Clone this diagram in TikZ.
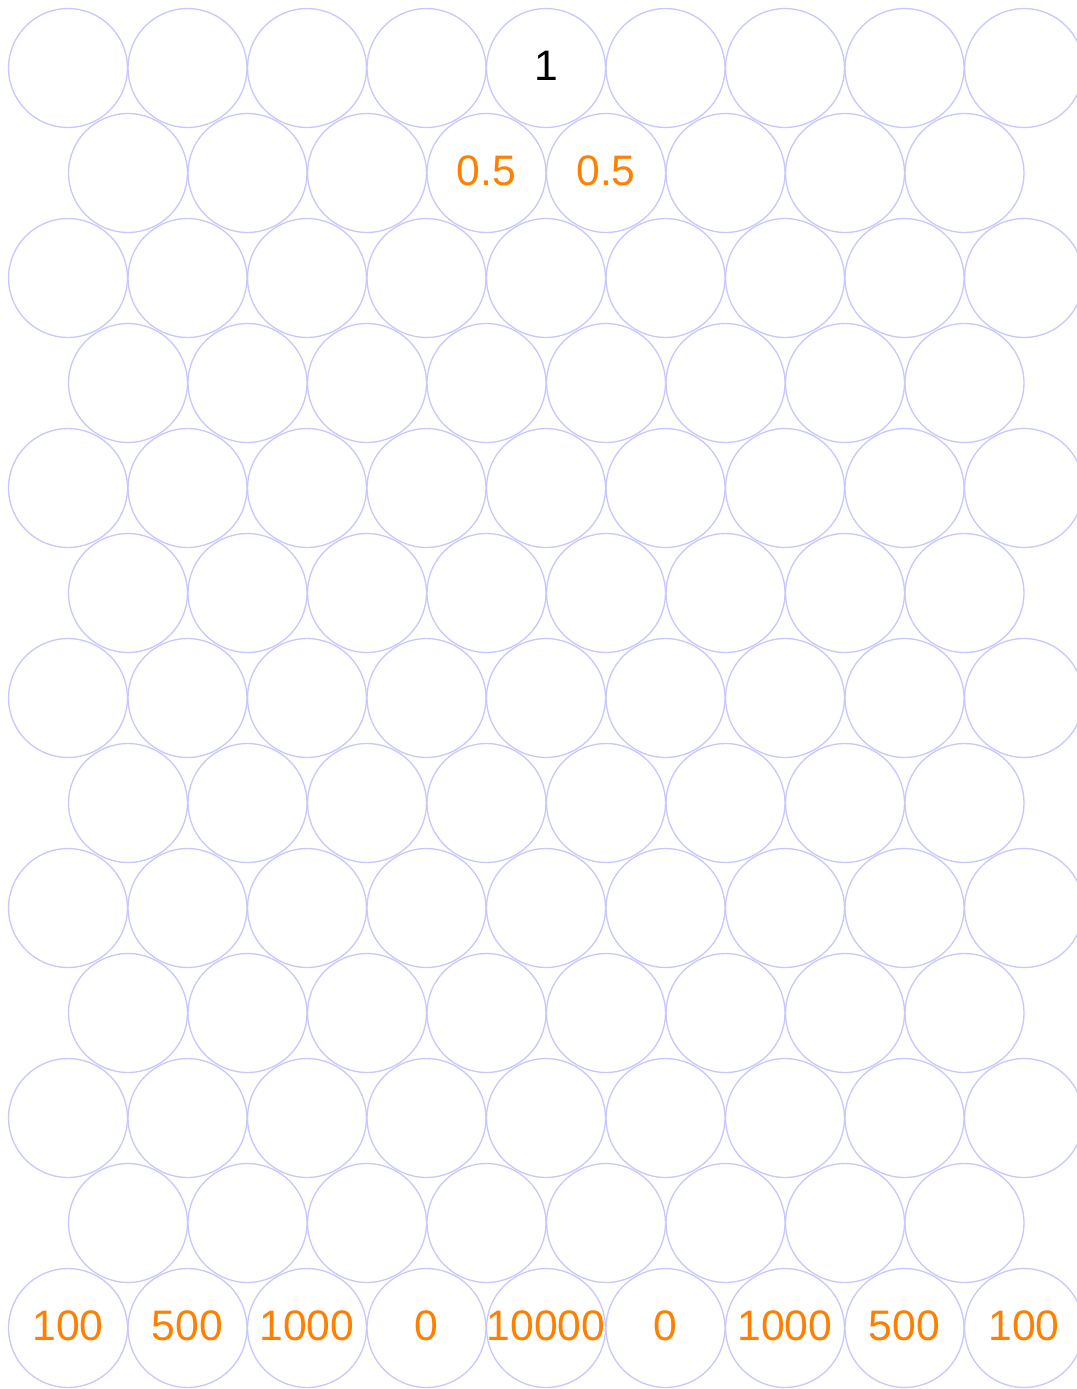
\documentclass[tikz,border=0pt]{standalone}
\usepackage{fontspec}
\setmainfont{Liberation Sans}
\definecolor{pegblue}{RGB}{200,200,255}
\definecolor{prizeorange}{RGB}{255,128,0}

\begin{document}
\begin{tikzpicture}[x=0.75pt, y=-0.75pt,
    peg/.style={circle, draw=pegblue, line width=1pt, minimum size=89.2pt, inner sep=0pt},
    prob/.style={font=\fontsize{32}{36}\selectfont, text=black, inner sep=0pt, yshift=1.5pt},
    prize/.style={prob, text=prizeorange}]
\useasboundingbox (0,0) rectangle (1076,1389);
% board: even rows hold 9 pegs, odd rows 8
\foreach \r in {0,...,12}{
  \pgfmathtruncatemacro{\odd}{mod(\r,2)}
  \ifnum\odd=0
    \foreach \k in {0,...,8} \node[peg] (p-\r-\k) at ({68+119.5*\k},{68+105*\r}) {};
  \else
    \foreach \k in {0,...,7} \node[peg] (p-\r-\k) at ({128+119.5*\k},{68+105*\r}) {};
  \fi
}
\node[prob] (start) at (p-0-4) {1};
\node[prize] (left) at (p-1-3) {0.5};
\node[prize] (right) at (p-1-4) {0.5};
% prizes along the bottom row
\foreach \v [count=\k from 0] in {100,500,1000,0,10000,0,1000,500,100}
  \node[prize] (prize-\k) at (p-12-\k) {\v};
\end{tikzpicture}
\end{document}
